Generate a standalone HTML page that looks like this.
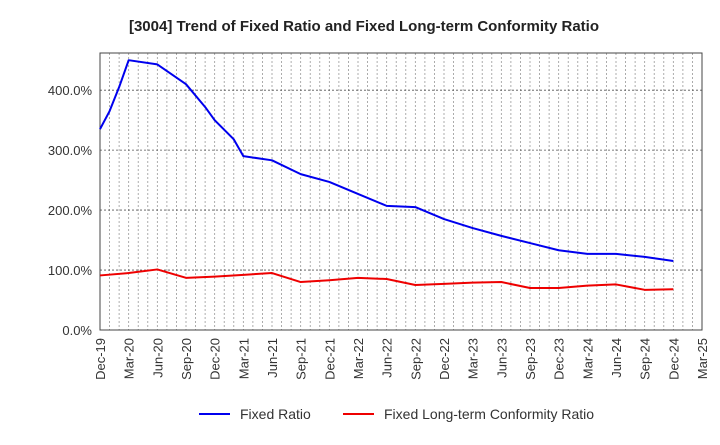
<!DOCTYPE html>
<html><head><meta charset="utf-8"><style>
body{margin:0;background:#fff}
svg text{font-family:"Liberation Sans",sans-serif}
</style></head><body>
<svg width="720" height="440" id="c">
<text x="364" y="31" text-anchor="middle" font-size="15" font-weight="bold" fill="#222">[3004]  Trend of Fixed Ratio and Fixed Long-term Conformity Ratio</text>
<g id="grid"></g><g id="axes"></g><g id="lines"></g>
<g>
<line x1="199" y1="414" x2="230" y2="414" stroke="#0000ee" stroke-width="2"/>
<text x="240" y="419" font-size="14" fill="#333">Fixed Ratio</text>
<line x1="343" y1="414" x2="374" y2="414" stroke="#ee0000" stroke-width="2"/>
<text x="384" y="419" font-size="14" fill="#333">Fixed Long-term Conformity Ratio</text>
</g>
</svg>
<script>
const xLabels=["Dec-19","Mar-20","Jun-20","Sep-20","Dec-20","Mar-21","Jun-21","Sep-21","Dec-21","Mar-22","Jun-22","Sep-22","Dec-22","Mar-23","Jun-23","Sep-23","Dec-23","Mar-24","Jun-24","Sep-24","Dec-24","Mar-25"];
const yTicks=[0,100,200,300,400];
const fixedMonths=[0,1,2,3,6,9,11,12,14,15,18,21,24,27,30,33,36,39,42,45,48,51,54,57,60];
const fixedRatio=[335,365,405,450,443,410,372,350,318,290,283,260,247,227,207,205,185,170,157,145,133,127,127,122,115];
const confMonths=[0,3,6,9,12,15,18,21,24,27,30,33,36,39,42,45,48,51,54,57,60];
const confRatio=[91,95,101,87,89,92,95,80,83,87,85,75,77,79,80,70,70,74,76,67,68];
const L=100,R=702,T=53,B=330,yMax=462,nM=63;
const X=m=>L+(R-L)*m/nM, Y=v=>B-(B-T)*v/yMax;
const ns="http://www.w3.org/2000/svg";
function mk(t,a,p){const e=document.createElementNS(ns,t);for(const k in a)e.setAttribute(k,a[k]);p.appendChild(e);return e;}
const g=document.getElementById('grid'),ax=document.getElementById('axes'),ln=document.getElementById('lines');
for(let m=1;m<nM;m++){const e=mk('line',{x1:X(m),x2:X(m),y1:T,y2:B,stroke:'#999','stroke-dasharray':'2,2','stroke-width':0.8},g);

}
yTicks.forEach(v=>{if(v>0){const e=mk('line',{x1:L,x2:R,y1:Y(v),y2:Y(v),stroke:'#555','stroke-dasharray':'2,2','stroke-width':0.8},g);

}
const t=mk('text',{x:L-8,y:Y(v)+5,'text-anchor':'end','font-size':13,fill:'#333'},ax);t.textContent=v.toFixed(1)+'%';

});
const fr=mk('rect',{x:L,y:T,width:R-L,height:B-T,fill:'none',stroke:'#444','stroke-width':1},ax);


xLabels.forEach((s,i)=>{const x=X(i*3);const t=mk('text',{x:0,y:0,'text-anchor':'end','font-size':13,fill:'#333',transform:`translate(${x+5},${B+8}) rotate(-90)`},ax);t.textContent=s;

});
function line(ms,vs,c,name){const p=mk('polyline',{points:ms.map((m,i)=>X(m)+','+Y(vs[i])).join(' '),fill:'none',stroke:c,'stroke-width':2,'stroke-linejoin':'round'},ln);

}
line(fixedMonths,fixedRatio,'#0000ee','fixed-ratio-line');
line(confMonths,confRatio,'#ee0000','conformity-ratio-line');
</script>
</body></html>
